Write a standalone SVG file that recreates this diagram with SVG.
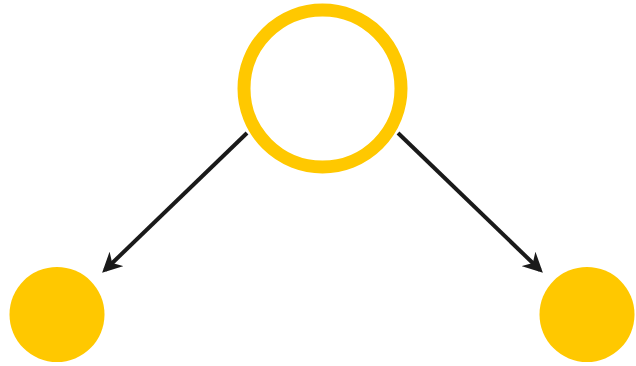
<svg xmlns="http://www.w3.org/2000/svg" width="636" height="366" viewBox="0 0 636 366">
<style>
.edge{stroke:#1a1a1a;stroke-width:4;fill:none}
.leaf{fill:#ffc800}
</style>
<defs>
<marker id="ah" viewBox="0 0 10 10" refX="8" refY="5" markerWidth="5" markerHeight="5" orient="auto" markerUnits="strokeWidth">
<path d="M0,0 L10,5 L0,10 L3,5 z" fill="#1a1a1a"/>
</marker>
</defs>
<rect width="636" height="366" fill="#fff"/>
<g id="connectors">
<line class="edge" x1="247" y1="133" x2="105" y2="270" marker-end="url(#ah)"/>
<line class="edge" x1="398" y1="133" x2="540" y2="270" marker-end="url(#ah)"/>
</g>
<g id="root">
<circle cx="322.5" cy="88.5" r="78.5" fill="#fff" stroke="#ffc800" stroke-width="13"/>
</g>
<g id="left">
<circle class="leaf" cx="57" cy="314.5" r="47.5"/>
</g>
<g id="right">
<circle class="leaf" cx="587" cy="314.5" r="47.5"/>
</g>
</svg>
